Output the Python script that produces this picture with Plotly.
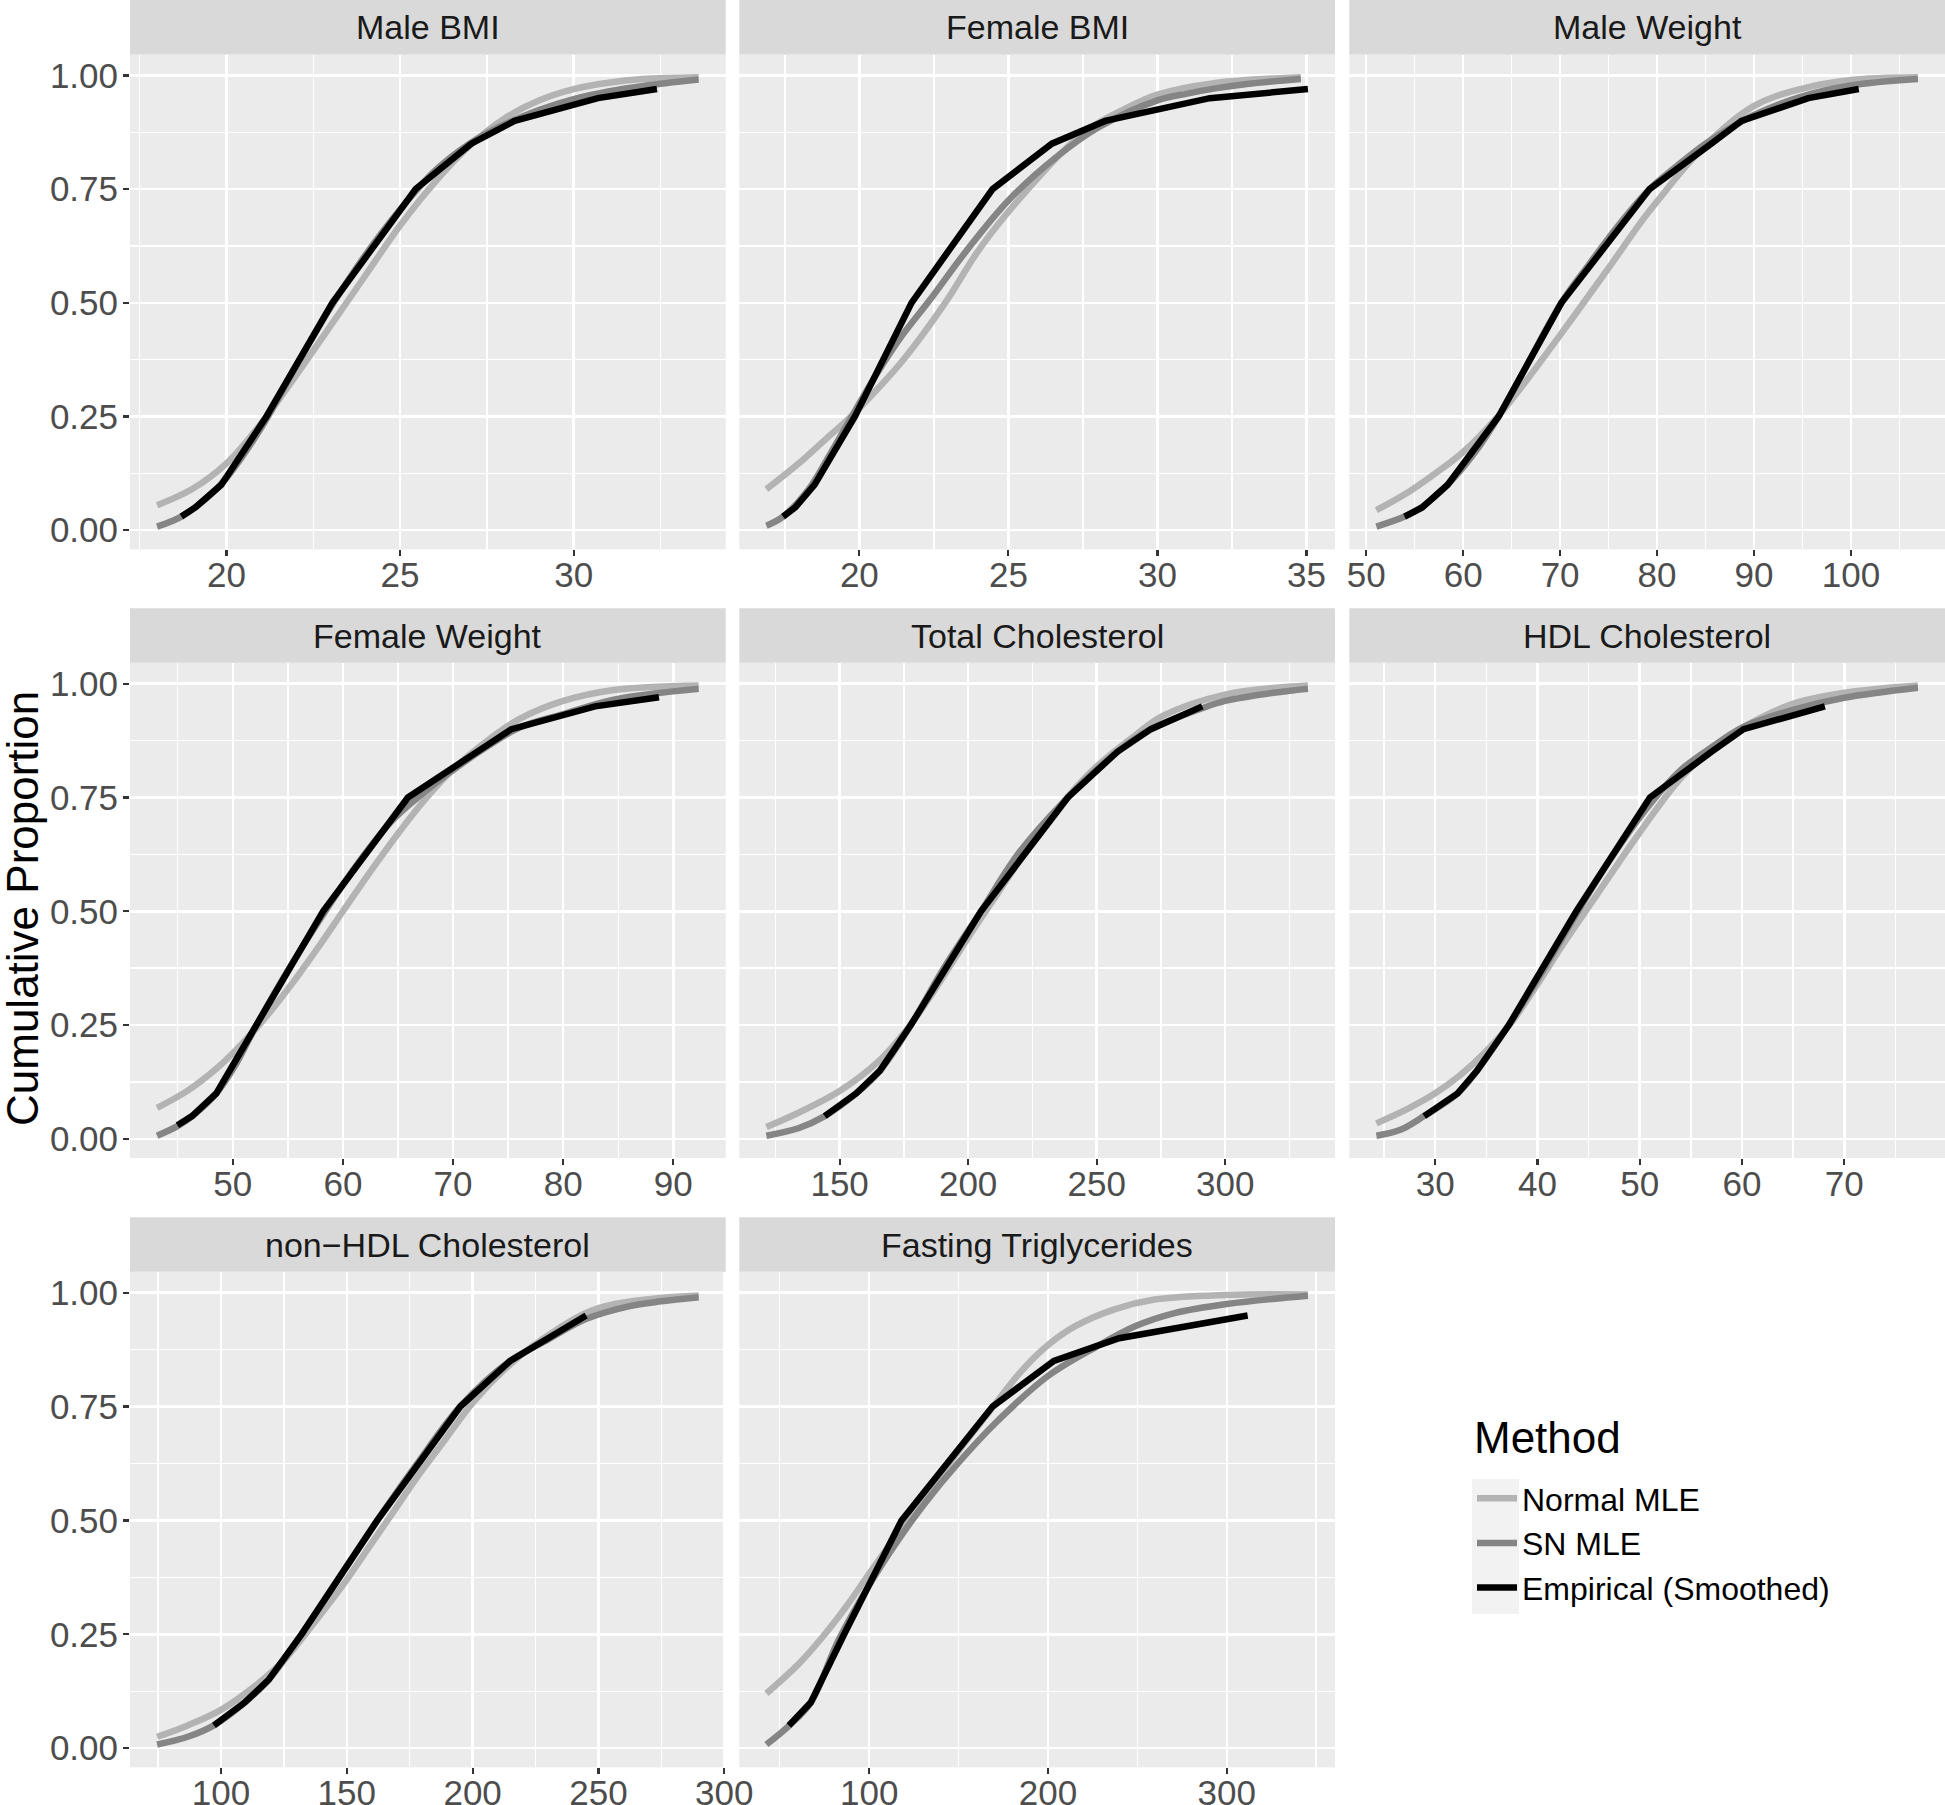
import plotly.graph_objects as go

# ---------------- data ----------------
PANELS = ["Male BMI", "Female BMI", "Male Weight", "Female Weight",
          "Total Cholesterol", "HDL Cholesterol", "non\u2212HDL Cholesterol",
          "Fasting Triglycerides"]
METHODS = ["Normal MLE", "SN MLE", "Empirical (Smoothed)"]

# Male BMI
MBMI_N_X = [18.0, 19.0, 20.0, 21.0, 22.0, 23.0, 24.0, 25.0, 26.0, 27.0, 28.0, 29.0, 30.0, 31.0, 32.0, 33.6]
MBMI_N_Y = [0.055, 0.09, 0.147, 0.235, 0.34, 0.45, 0.56, 0.67, 0.765, 0.845, 0.905, 0.945, 0.97, 0.984, 0.992, 0.996]
MBMI_S_X = [18.0, 18.7, 19.5, 20.0, 21.0, 22.0, 23.0, 24.0, 25.0, 26.0, 27.0, 28.0, 29.0, 30.0, 31.0, 32.0, 33.6]
MBMI_S_Y = [0.008, 0.03, 0.075, 0.115, 0.225, 0.36, 0.49, 0.605, 0.705, 0.79, 0.85, 0.892, 0.924, 0.948, 0.965, 0.977, 0.991]
MBMI_E_X = [18.7, 19.1, 19.85, 21.15, 23.05, 25.45, 27.05, 28.3, 30.7, 32.4]
MBMI_E_Y = [0.03, 0.05, 0.10, 0.25, 0.50, 0.75, 0.85, 0.90, 0.95, 0.97]

# Female BMI
FBMI_N_X = [16.88, 17.97, 18.9, 19.69, 20.6, 21.49, 22.88, 24.07, 25.66, 27.52, 29.11, 30.0, 31.9, 34.81]
FBMI_N_Y = [0.09, 0.147, 0.202, 0.248, 0.31, 0.376, 0.50, 0.622, 0.75, 0.874, 0.933, 0.958, 0.983, 0.996]
FBMI_S_X = [16.88, 17.44, 18.3, 19.0, 19.7, 20.5, 21.4, 22.35, 23.6, 25.0, 26.6, 28.0, 30.0, 31.0, 32.0, 33.0, 34.81]
FBMI_S_Y = [0.01, 0.03, 0.09, 0.165, 0.245, 0.335, 0.425, 0.505, 0.615, 0.725, 0.82, 0.885, 0.945, 0.96, 0.972, 0.981, 0.992]
FBMI_E_X = [17.44, 17.85, 18.5, 19.85, 21.75, 24.47, 26.46, 28.25, 31.76, 35.05]
FBMI_E_Y = [0.03, 0.05, 0.10, 0.25, 0.50, 0.75, 0.85, 0.90, 0.95, 0.97]

# Male Weight
MWT_N_X = [51.05, 54.37, 57.2, 60.0, 63.66, 66.49, 70.0, 72.55, 75.38, 78.6, 80.0, 84.68, 90.0, 94.8, 100.0, 106.9]
MWT_N_Y = [0.044, 0.084, 0.126, 0.172, 0.252, 0.328, 0.429, 0.504, 0.588, 0.685, 0.723, 0.84, 0.933, 0.97, 0.99, 0.996]
MWT_S_X = [51.05, 53.96, 55.8, 58.4, 61.0, 63.66, 66.5, 70.13, 73.0, 76.0, 79.23, 82.0, 85.0, 88.0, 90.0, 94.8, 100.0, 106.9]
MWT_S_Y = [0.008, 0.03, 0.052, 0.10, 0.165, 0.25, 0.36, 0.50, 0.585, 0.67, 0.75, 0.80, 0.85, 0.89, 0.913, 0.953, 0.978, 0.992]
MWT_E_X = [53.96, 55.78, 58.4, 63.66, 70.13, 79.23, 85.6, 88.7, 95.6, 100.8]
MWT_E_Y = [0.03, 0.05, 0.10, 0.25, 0.50, 0.75, 0.85, 0.90, 0.95, 0.97]

# Female Weight
FWT_N_X = [43.12, 45.9, 48.5, 50.0, 52.8, 55.4, 57.96, 60.0, 62.7, 65.3, 67.4, 70.0, 73.4, 76.0, 80.0, 84.6, 92.3]
FWT_N_Y = [0.068, 0.106, 0.154, 0.188, 0.262, 0.342, 0.428, 0.50, 0.594, 0.68, 0.744, 0.812, 0.88, 0.922, 0.962, 0.986, 0.996]
FWT_S_X = [43.12, 44.97, 46.3, 48.5, 50.3, 52.15, 55.0, 58.4, 61.5, 64.5, 66.8, 70.0, 73.0, 76.0, 80.0, 84.6, 92.3]
FWT_S_Y = [0.007, 0.028, 0.05, 0.10, 0.165, 0.25, 0.37, 0.50, 0.61, 0.70, 0.75, 0.81, 0.86, 0.903, 0.933, 0.965, 0.989]
FWT_E_X = [44.97, 46.3, 48.5, 52.15, 58.2, 65.9, 72.2, 75.3, 82.9, 88.7]
FWT_E_Y = [0.03, 0.05, 0.10, 0.25, 0.50, 0.75, 0.85, 0.90, 0.95, 0.97]

# Total Cholesterol
TC_N_X = [121.5, 134.2, 150.0, 164.9, 175.7, 186.5, 200.0, 211.1, 223.4, 237.2, 250.0, 264.9, 275.7, 300.0, 332.2]
TC_N_Y = [0.026, 0.058, 0.105, 0.169, 0.237, 0.323, 0.442, 0.536, 0.639, 0.741, 0.818, 0.886, 0.929, 0.976, 0.996]
TC_S_X = [121.5, 134.2, 144.2, 156.5, 165.7, 177.7, 190.0, 205.0, 220.0, 238.8, 258.0, 271.1, 291.1, 300.0, 318.8, 332.2]
TC_S_Y = [0.007, 0.024, 0.05, 0.10, 0.15, 0.25, 0.37, 0.50, 0.63, 0.75, 0.85, 0.90, 0.946, 0.962, 0.98, 0.989]
TC_E_X = [144.2, 156.5, 165.7, 177.7, 205.0, 238.8, 258.0, 271.1, 291.1]
TC_E_Y = [0.05, 0.10, 0.15, 0.25, 0.50, 0.75, 0.85, 0.90, 0.95]

# HDL Cholesterol
HDL_N_X = [24.25, 27.4, 30.0, 32.4, 35.1, 37.4, 40.0, 42.7, 45.8, 50.0, 54.2, 58.05, 60.0, 64.9, 70.0, 77.2]
HDL_N_Y = [0.034, 0.067, 0.10, 0.139, 0.195, 0.254, 0.34, 0.434, 0.536, 0.673, 0.797, 0.874, 0.903, 0.955, 0.98, 0.996]
HDL_S_X = [24.25, 26.6, 28.9, 32.2, 34.1, 37.2, 40.0, 43.7, 47.0, 51.0, 54.0, 57.0, 60.15, 64.9, 70.0, 77.2]
HDL_S_Y = [0.007, 0.02, 0.05, 0.10, 0.15, 0.25, 0.35, 0.49, 0.61, 0.735, 0.81, 0.86, 0.905, 0.942, 0.969, 0.991]
HDL_E_X = [28.93, 32.2, 34.1, 37.2, 43.8, 51.0, 57.0, 60.15, 68.1]
HDL_E_Y = [0.05, 0.10, 0.15, 0.25, 0.50, 0.75, 0.85, 0.90, 0.95]

# non-HDL Cholesterol
NHDL_N_X = [74.6, 86.8, 100.0, 113.2, 124.5, 133.9, 143.3, 150.0, 158.4, 167.8, 177.2, 188.5, 200.0, 213.0, 226.2, 250.0, 289.8]
NHDL_N_Y = [0.025, 0.05, 0.084, 0.135, 0.19, 0.253, 0.32, 0.37, 0.438, 0.513, 0.589, 0.673, 0.758, 0.833, 0.892, 0.966, 0.994]
NHDL_S_X = [74.6, 86.8, 97.2, 109.4, 118.9, 132.0, 147.0, 162.1, 178.0, 195.1, 214.9, 229.9, 245.0, 262.0, 275.0, 289.8]
NHDL_S_Y = [0.008, 0.025, 0.05, 0.10, 0.15, 0.25, 0.375, 0.50, 0.625, 0.75, 0.85, 0.897, 0.942, 0.97, 0.981, 0.99]
NHDL_E_X = [97.2, 109.4, 118.9, 132.0, 162.1, 195.1, 214.9, 229.9, 245.1]
NHDL_E_Y = [0.05, 0.10, 0.15, 0.25, 0.50, 0.75, 0.85, 0.90, 0.95]

# Fasting Triglycerides
TG_N_X = [42.5, 60.6, 73.9, 87.2, 100.0, 115.9, 131.4, 149.1, 166.8, 184.5, 200.0, 215.5, 237.6, 259.7, 300.0, 345.4]
TG_N_Y = [0.12, 0.185, 0.244, 0.311, 0.383, 0.471, 0.556, 0.648, 0.737, 0.825, 0.885, 0.927, 0.964, 0.985, 0.995, 0.996]
TG_S_X = [42.5, 55.1, 67.3, 82.7, 100.0, 115.9, 131.4, 149.1, 171.2, 200.0, 226.5, 248.7, 270.8, 300.0, 345.4]
TG_S_Y = [0.008, 0.049, 0.10, 0.236, 0.358, 0.455, 0.539, 0.623, 0.716, 0.817, 0.88, 0.926, 0.955, 0.975, 0.993]
TG_E_X = [55.1, 67.3, 86.0, 118.1, 169.0, 203.3, 239.8, 311.7]
TG_E_Y = [0.05, 0.10, 0.25, 0.50, 0.75, 0.85, 0.90, 0.95]

# tick labels
MBMI_TICKS = [20, 25, 30]
FBMI_TICKS = [20, 25, 30, 35]
MWT_TICKS = [50, 60, 70, 80, 90, 100]
FWT_TICKS = [50, 60, 70, 80, 90]
TC_TICKS = [150, 200, 250, 300]
HDL_TICKS = [30, 40, 50, 60, 70]
NHDL_TICKS = [100, 150, 200, 250, 300]
TG_TICKS = [100, 200, 300]
Y_TICKS = [0.0, 0.25, 0.50, 0.75, 1.0]
Y_LABELS = ["0.00", "0.25", "0.50", "0.75", "1.00"]

PANEL_DATA = [
    (MBMI_N_X, MBMI_N_Y, MBMI_S_X, MBMI_S_Y, MBMI_E_X, MBMI_E_Y, MBMI_TICKS),
    (FBMI_N_X, FBMI_N_Y, FBMI_S_X, FBMI_S_Y, FBMI_E_X, FBMI_E_Y, FBMI_TICKS),
    (MWT_N_X, MWT_N_Y, MWT_S_X, MWT_S_Y, MWT_E_X, MWT_E_Y, MWT_TICKS),
    (FWT_N_X, FWT_N_Y, FWT_S_X, FWT_S_Y, FWT_E_X, FWT_E_Y, FWT_TICKS),
    (TC_N_X, TC_N_Y, TC_S_X, TC_S_Y, TC_E_X, TC_E_Y, TC_TICKS),
    (HDL_N_X, HDL_N_Y, HDL_S_X, HDL_S_Y, HDL_E_X, HDL_E_Y, HDL_TICKS),
    (NHDL_N_X, NHDL_N_Y, NHDL_S_X, NHDL_S_Y, NHDL_E_X, NHDL_E_Y, NHDL_TICKS),
    (TG_N_X, TG_N_Y, TG_S_X, TG_S_Y, TG_E_X, TG_E_Y, TG_TICKS),
]

# ---------------- styling / layout ----------------
W, H = 1945, 1805
FONT = "Liberation Sans, Arial, Helvetica, sans-serif"
COLORS = ["#B3B3B3", "#858585", "#000000"]
SHAPES = ["spline", "spline", "linear"]
LINE_W = 6.5
COL_X = [(130.0, 725.7), (739.3, 1335.0), (1349.3, 1945.0)]
ROW_Y = [(54.5, 549.3), (662.7, 1158.0), (1271.7, 1767.3)]
STRIP_H = 54.4
Y_RANGE = [-0.042, 1.046]

def px(v):
    return v / W

def py(v):
    return 1 - v / H

fig = go.Figure()
shapes = []
annotations = []

for i, name in enumerate(PANELS):
    r, c = divmod(i, 3)
    k = i + 1
    xref = "x" if k == 1 else f"x{k}"
    yref = "y" if k == 1 else f"y{k}"
    nx, ny, sx, sy, ex, ey, ticks = PANEL_DATA[i]
    series = [(nx, ny), (sx, sy), (ex, ey)]
    for m, (xs, ys) in enumerate(series):
        fig.add_trace(go.Scatter(
            x=xs, y=ys, mode="lines", name=METHODS[m], legendgroup=METHODS[m],
            showlegend=(i == 0),
            line=dict(color=COLORS[m], width=LINE_W, shape=SHAPES[m], smoothing=1.0),
            xaxis=xref, yaxis=yref, hoverinfo="skip"))

    allx = nx + sx + ex
    lo, hi = min(allx), max(allx)
    span = hi - lo
    xr = [lo - 0.05 * span, hi + 0.05 * span]
    step = ticks[1] - ticks[0]
    minor_vals = [t - step / 2 for t in ticks] + [ticks[-1] + step / 2]

    x0, x1 = COL_X[c]
    yt, yb = ROW_Y[r]
    axis_common = dict(showline=False, zeroline=False, showgrid=True, automargin=False,
                       gridcolor="white", gridwidth=2.5,
                       ticks="outside", ticklen=6, tickwidth=2.2, tickcolor="#333333",
                       tickfont=dict(family=FONT, size=35, color="#4D4D4D"),
                       fixedrange=True)
    fig.update_layout(**{
        f"xaxis{k}": dict(axis_common, domain=[px(x0), px(x1)], anchor=yref,
                          range=xr, tickmode="array", tickvals=ticks,
                          ticktext=[str(t) for t in ticks], ticklabelstandoff=-11,
                          minor=dict(tickmode="array", tickvals=minor_vals, showgrid=True,
                                     gridcolor="white", gridwidth=1.4, ticks="")),
        f"yaxis{k}": dict(axis_common, domain=[py(yb), py(yt)], anchor=xref,
                          range=Y_RANGE, tickmode="array", tickvals=Y_TICKS,
                          ticktext=Y_LABELS, showticklabels=(c == 0),
                          ticks="outside" if c == 0 else "", ticklabelstandoff=-2,
                          minor=dict(tickmode="array", tickvals=[0.125, 0.375, 0.625, 0.875],
                                     showgrid=True, gridcolor="white", gridwidth=1.4, ticks="")),
    })
    # facet strip
    shapes.append(dict(type="rect", xref="paper", yref="paper",
                       x0=px(x0), x1=px(x1), y0=py(yt), y1=py(yt - STRIP_H),
                       fillcolor="#D9D9D9", line=dict(width=0), layer="below"))
    annotations.append(dict(text=name, xref="paper", yref="paper",
                            x=px((x0 + x1) / 2), y=py(yt - STRIP_H / 2),
                            xanchor="center", yanchor="middle", showarrow=False,
                            font=dict(family=FONT, size=34, color="#1A1A1A")))

# y axis title
annotations.append(dict(text="Cumulative Proportion", xref="paper", yref="paper",
                        x=px(22), y=py(909), textangle=-90, xanchor="center",
                        yanchor="middle", showarrow=False,
                        font=dict(family=FONT, size=44, color="#000000")))

# legend title
annotations.append(dict(text="Method", xref="paper", yref="paper",
                        x=px(1472), y=py(1437), xanchor="left", yanchor="middle",
                        showarrow=False, font=dict(family=FONT, size=44, color="#000000")))

# legend key background
shapes.append(dict(type="rect", xref="paper", yref="paper",
                   x0=px(1472), x1=px(1519), y0=py(1614), y1=py(1479),
                   fillcolor="#F2F2F2", line=dict(width=0), layer="below"))

fig.update_layout(
    width=W, height=H, autosize=False,
    margin=dict(l=0, r=0, t=0, b=0, pad=0),
    paper_bgcolor="white", plot_bgcolor="#EBEBEB",
    font=dict(family=FONT, size=34, color="#000000"),
    shapes=shapes, annotations=annotations,
    showlegend=True,
    legend=dict(x=px(1472), y=py(1471), xanchor="left", yanchor="top",
                bgcolor="rgba(0,0,0,0)", borderwidth=0,
                font=dict(family=FONT, size=32, color="#000000"),
                tracegroupgap=0, itemwidth=40),
)

fig.write_html("out.html", include_plotlyjs=True, full_html=True,
               config={"displayModeBar": False, "staticPlot": True, "responsive": False},
               post_script="document.body.style.margin='0px';document.body.style.padding='0px';")
